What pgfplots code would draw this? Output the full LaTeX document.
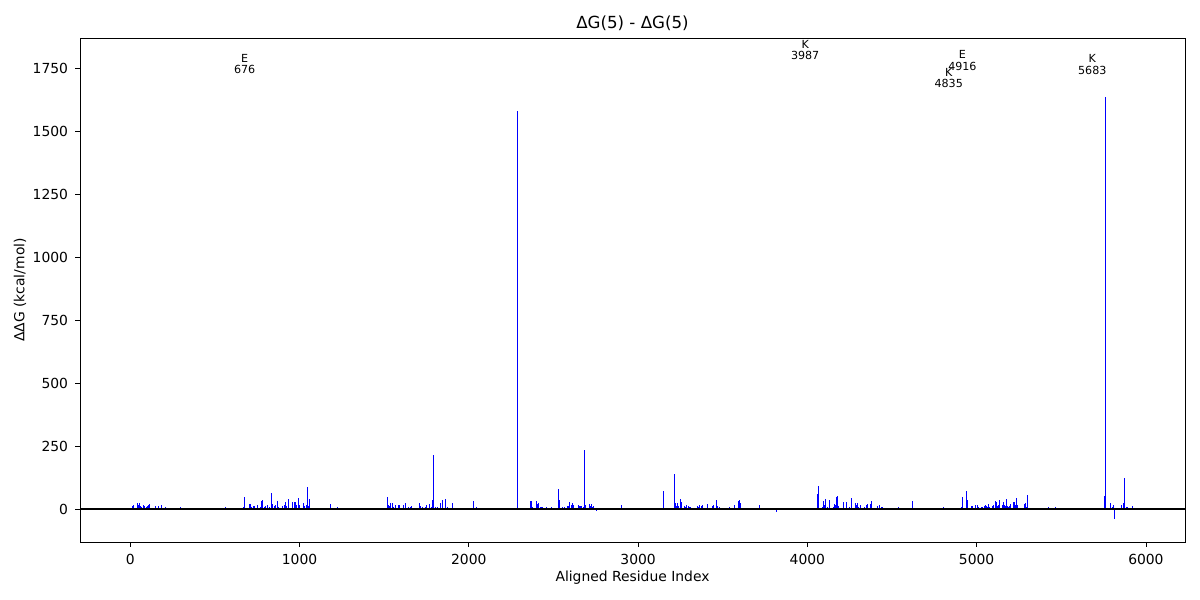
\documentclass[border=0pt]{standalone}
\usepackage{fontspec}
\setmainfont{DejaVu Sans}
\usepackage{pgfplots}
\usepackage{pgfplotstable}
\pgfplotsset{compat=1.18}
\pgfplotstableread{
x y
14 13
20 17
30 4
41 24
47 17
53 24
59 12
67 8
77 16
83 13
94 8
102 12
110 17
116 20
122 4
148 12
155 5
165 12
173 5
183 17
203 5
209 8
214 4
297 8
563 8
669 8
676 48
705 19
710 21
718 9
728 12
736 12
750 17
768 7
775 32
784 36
791 8
801 12
809 17
821 7
833 65
840 20
850 12
858 17
868 33
876 9
900 12
910 17
917 26
925 12
933 40
958 26
972 26
978 26
984 17
994 44
1002 17
1024 24
1032 12
1039 17
1047 87
1053 12
1059 40
1183 20
1224 8
1520 48
1525 16
1531 12
1537 24
1549 24
1555 8
1567 16
1585 16
1590 16
1596 4
1614 16
1626 24
1643 8
1655 8
1661 12
1673 4
1684 4
1708 24
1716 13
1724 8
1744 8
1750 16
1767 20
1779 8
1785 36
1791 214
1803 8
1815 8
1832 24
1844 36
1862 40
1874 8
1880 4
1903 24
2027 32
2045 8
2187 4
2287 1580
2364 32
2370 32
2376 8
2399 32
2405 20
2411 24
2423 8
2429 8
2435 8
2458 8
2464 4
2488 8
2493 4
2499 4
2523 4
2529 80
2535 36
2547 4
2553 8
2565 8
2582 12
2588 12
2594 28
2606 16
2612 24
2618 16
2647 16
2653 12
2659 12
2665 12
2671 4
2677 8
2683 236
2689 16
2713 20
2718 12
2724 20
2730 8
2736 12
2748 4
2754 -8
2902 16
3132 4
3150 71
3215 139
3221 24
3226 12
3232 24
3238 12
3250 40
3256 28
3274 12
3280 8
3285 16
3297 12
3303 8
3309 8
3339 4
3351 12
3356 8
3362 16
3374 12
3380 16
3392 4
3410 20
3421 4
3439 12
3445 16
3463 36
3469 12
3475 4
3480 8
3490 5
3528 4
3534 4
3540 9
3563 5
3569 17
3592 32
3598 36
3604 25
3716 17
3817 -10
4059 60
4065 91
4071 5
4088 9
4094 32
4100 17
4106 40
4118 9
4124 5
4130 36
4153 9
4159 20
4165 15
4171 48
4177 52
4183 12
4189 5
4212 28
4218 5
4230 28
4236 5
4248 9
4260 44
4266 5
4283 24
4289 17
4295 24
4301 9
4313 17
4336 9
4342 5
4348 17
4354 20
4372 20
4378 32
4407 5
4413 12
4425 17
4431 5
4437 9
4443 9
4537 9
4567 5
4620 33
4803 9
4909 8
4915 48
4927 5
4933 5
4939 71
4945 36
4968 12
4974 12
4992 17
4998 5
5004 17
5010 9
5027 9
5033 9
5045 12
5051 17
5057 12
5063 9
5069 20
5075 9
5092 12
5098 17
5110 32
5116 28
5122 12
5128 17
5134 36
5139 5
5151 17
5157 28
5163 17
5169 12
5175 40
5181 12
5187 9
5193 12
5199 20
5216 28
5222 28
5228 17
5234 44
5240 17
5258 5
5281 20
5287 24
5293 9
5299 56
5423 8
5465 8
5754 52
5760 1635
5790 24
5796 5
5802 9
5808 17
5813 -40
5819 5
5825 5
5855 17
5866 24
5872 123
5884 9
5890 9
5919 12
5925 5
}\ddg
\begin{document}
\begin{tikzpicture}
\begin{axis}[
  name=ax,
  scale only axis,
  width=552.5pt, height=252pt,
  xmin=-297, xmax=6231,
  ymin=-131, ymax=1869,
  xtick={0,1000,2000,3000,4000,5000,6000},
  ytick={0,250,500,750,1000,1250,1500,1750},
  /pgf/number format/.cd, 1000 sep={}, assume math mode=true,
  /pgfplots/.cd,
  tick align=outside,
  major tick length=2.45pt,
  tick style={black, line width=0.4pt},
  axis line style={black, line width=0.4pt},
  xtick pos=bottom, ytick pos=left,
  ticklabel style={font=\fontsize{6.94}{8}\selectfont},
  title={ΔG(5) - ΔG(5)},
  every axis title shift=0pt,
  title style={font=\fontsize{8.33}{10}\selectfont, at={(axis description cs:0.5,1.0298)}, anchor=center, yshift=0pt},
  xlabel={Aligned Residue Index},
  ylabel={ΔΔG (kcal/mol)},
  xlabel style={font=\fontsize{6.94}{8}\selectfont, at={(axis description cs:0.5,-0.0714)}, anchor=center},
  ylabel style={font=\fontsize{6.94}{8}\selectfont, at={(axis description cs:-0.0543,0.5)}, anchor=center},
]
\addplot[ycomb, mark=none, color={rgb,1:red,0;green,0;blue,1}, line width=0.5pt] table[x=x,y=y] {\ddg};
\addplot[black, line width=0.55pt, mark=none] coordinates {(-297,0) (6231,0)};
\begin{scope}[every node/.style={align=center, font=\fontsize{5.56}{5.6}\selectfont, inner sep=0pt}]
\node at (axis cs:676,1766) {E\\676};
\node at (axis cs:3987,1821) {K\\3987};
\node at (axis cs:4835,1710) {K\\4835};
\node at (axis cs:4916,1780) {E\\4916};
\node at (axis cs:5683,1764) {K\\5683};
\end{scope}
\end{axis}
\pgfresetboundingbox
\path[use as bounding box] ([shift={(-40pt,-29pt)}]ax.south west) rectangle ([shift={(7.5pt,19pt)}]ax.north east);
\end{tikzpicture}
\end{document}
